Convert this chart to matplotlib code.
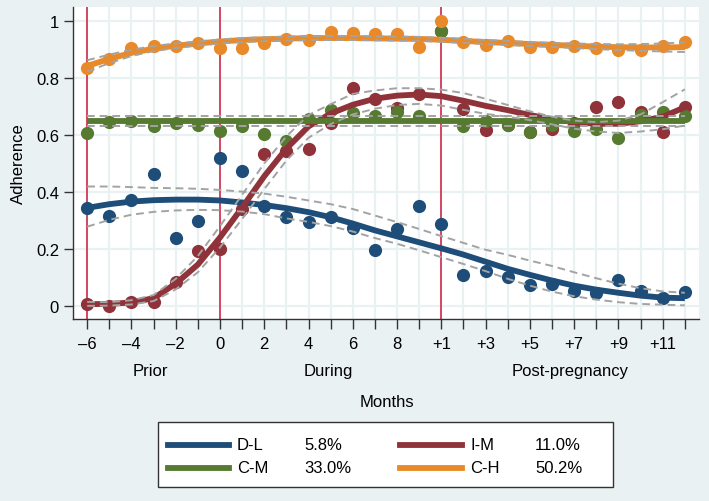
import numpy as np
import matplotlib
matplotlib.use('Agg')
import matplotlib.pyplot as plt
from matplotlib.lines import Line2D
from matplotlib.patches import Rectangle

plt.rcParams['font.family'] = ['Liberation Sans', 'DejaVu Sans']

# months: 6 prior (-6..-1), 10 during (0..9), 12 post (+1..+12)
tick_labels = ['\u20136', '', '\u20134', '', '\u20132', '', '0', '', '2', '', '4', '', '6', '', '8', '',
               '+1', '', '+3', '', '+5', '', '+7', '', '+9', '', '+11', '']
x = np.arange(-6, 22)

# observed group means
dl_obs = [0.344, 0.317, 0.373, 0.463, 0.237, 0.297, 0.518, 0.472, 0.350, 0.313, 0.296, 0.313, 0.272, 0.196,
          0.270, 0.352, 0.289, 0.109, 0.123, 0.101, 0.075, 0.077, 0.054, 0.046, 0.091, 0.054, 0.028, 0.048]
im_obs = [0.007, 0.001, 0.013, 0.013, 0.083, 0.194, 0.200, 0.340, 0.533, 0.545, 0.551, 0.642, 0.764, 0.726,
          0.696, 0.744, 0.965, 0.691, 0.619, 0.635, 0.609, 0.621, 0.642, 0.697, 0.715, 0.680, 0.612, 0.697]
cm_obs = [0.607, 0.647, 0.650, 0.633, 0.642, 0.635, 0.614, 0.630, 0.605, 0.580, 0.655, 0.688, 0.676, 0.668,
          0.680, 0.666, 0.965, 0.633, 0.650, 0.635, 0.609, 0.635, 0.615, 0.621, 0.588, 0.670, 0.680, 0.666]
ch_obs = [0.834, 0.867, 0.905, 0.913, 0.911, 0.923, 0.904, 0.906, 0.923, 0.938, 0.933, 0.961, 0.959, 0.955,
          0.955, 0.910, 1.000, 0.925, 0.917, 0.929, 0.908, 0.908, 0.913, 0.904, 0.898, 0.899, 0.913, 0.925]

# fitted trajectories + 95% CI
dl_fit = [0.344, 0.357, 0.366, 0.371, 0.373, 0.373, 0.370, 0.363, 0.354, 0.343, 0.329, 0.311, 0.289, 0.265,
          0.244, 0.223, 0.202, 0.180, 0.155, 0.130, 0.109, 0.089, 0.071, 0.057, 0.046, 0.036, 0.029, 0.027]
dl_hi = [0.419, 0.419, 0.417, 0.414, 0.413, 0.411, 0.407, 0.401, 0.394, 0.383, 0.370, 0.357, 0.340, 0.317,
         0.294, 0.270, 0.245, 0.221, 0.197, 0.179, 0.159, 0.140, 0.118, 0.097, 0.078, 0.062, 0.051, 0.046]
dl_lo = [0.278, 0.302, 0.320, 0.330, 0.335, 0.337, 0.336, 0.331, 0.322, 0.307, 0.295, 0.280, 0.261, 0.238,
         0.218, 0.195, 0.171, 0.147, 0.122, 0.095, 0.071, 0.050, 0.034, 0.022, 0.013, 0.007, 0.004, 0.002]

im_fit = [0.006, 0.007, 0.012, 0.027, 0.078, 0.145, 0.240, 0.345, 0.455, 0.552, 0.630, 0.675, 0.706, 0.727,
          0.738, 0.742, 0.736, 0.720, 0.702, 0.687, 0.670, 0.655, 0.645, 0.639, 0.639, 0.648, 0.664, 0.697]
im_hi = [0.014, 0.013, 0.020, 0.038, 0.095, 0.175, 0.280, 0.390, 0.500, 0.595, 0.670, 0.708, 0.744, 0.756,
         0.764, 0.764, 0.759, 0.747, 0.727, 0.705, 0.683, 0.664, 0.650, 0.645, 0.650, 0.672, 0.715, 0.760]
im_lo = [0.000, 0.001, 0.005, 0.017, 0.058, 0.118, 0.205, 0.305, 0.410, 0.510, 0.590, 0.638, 0.672, 0.692,
         0.705, 0.709, 0.703, 0.688, 0.674, 0.664, 0.652, 0.637, 0.622, 0.612, 0.607, 0.612, 0.620, 0.633]

cm_fit = [0.650, 0.650, 0.650, 0.650, 0.650, 0.650, 0.650, 0.650, 0.650, 0.650, 0.650, 0.650, 0.650, 0.650,
          0.650, 0.650, 0.650, 0.650, 0.650, 0.650, 0.650, 0.650, 0.650, 0.650, 0.650, 0.650, 0.650, 0.650]
cm_hw = [0.017, 0.017, 0.017, 0.017, 0.017, 0.017, 0.017, 0.017, 0.017, 0.017, 0.017, 0.017, 0.017, 0.017,
         0.017, 0.017, 0.017, 0.017, 0.017, 0.017, 0.017, 0.017, 0.017, 0.017, 0.017, 0.017, 0.017, 0.017]

ch_fit = [0.842, 0.867, 0.888, 0.903, 0.913, 0.921, 0.928, 0.933, 0.936, 0.938, 0.940, 0.940, 0.940, 0.939,
          0.938, 0.937, 0.934, 0.930, 0.926, 0.923, 0.919, 0.916, 0.913, 0.910, 0.908, 0.907, 0.907, 0.908]
ch_hw = [0.020, 0.015, 0.011, 0.009, 0.008, 0.007, 0.007, 0.007, 0.007, 0.007, 0.007, 0.007, 0.007, 0.007,
         0.007, 0.007, 0.007, 0.007, 0.007, 0.007, 0.007, 0.007, 0.008, 0.009, 0.010, 0.012, 0.014, 0.017]

groups = ['D-L', 'I-M', 'C-M', 'C-H']
shares = ['5.8%', '11.0%', '33.0%', '50.2%']
colors = ['#1d4d78', '#8f3239', '#567a2f', '#e88a2a']
period_labels = ['Prior', 'During', 'Post-pregnancy']
period_x = [-3.15, 4.9, 15.8]
breaks = [-6, 0, 10]

bg = '#eaf1f3'
W, H = 709, 502
fig = plt.figure(figsize=(7.09, 5.02), dpi=100, facecolor=bg)
ax = fig.add_axes([73/W, 1-320/H, 626/W, 312/H])
ax.set_facecolor('white')

ax.set_xlim(-6.64, 21.64)
ax.set_ylim(-0.046, 1.049)
ax.set_xticks(x)
ax.set_xticklabels(tick_labels, fontsize=12)
ax.set_yticks([0, 0.2, 0.4, 0.6, 0.8, 1.0])
ax.set_yticklabels(['0', '0.2', '0.4', '0.6', '0.8', '1'], fontsize=12)
ax.tick_params(axis='x', length=7, width=1, pad=5, color='#333333')
ax.tick_params(axis='y', length=6.5, width=1, pad=3.5, color='#333333')
ax.grid(True, color=bg, lw=1.6, zorder=0)
ax.set_axisbelow(True)
for s in ['top', 'right']:
    ax.spines[s].set_visible(False)
for s in ['left', 'bottom']:
    ax.spines[s].set_color('#333333')
    ax.spines[s].set_linewidth(1)

for b in breaks:
    ax.axvline(b, color='#cf2a48', lw=1.2, zorder=1.5)

obs = [dl_obs, im_obs, cm_obs, ch_obs]
for o, c in zip(obs, colors):
    ax.plot(x, o, 'o', color=c, ms=9.5, mew=0, zorder=2)

ci_style = dict(color='#a3a3a3', lw=1.4, dashes=(4, 2.5), zorder=4)
cm_fit_a = np.array(cm_fit)
ch_fit_a = np.array(ch_fit)
fits = [(dl_fit, dl_hi, dl_lo),
        (im_fit, im_hi, im_lo),
        (cm_fit_a, cm_fit_a + np.array(cm_hw), cm_fit_a - np.array(cm_hw)),
        (ch_fit_a, ch_fit_a + np.array(ch_hw), ch_fit_a - np.array(ch_hw))]
for (f, hi, lo), c in zip(fits, colors):
    ax.plot(x, f, color=c, lw=4.2, zorder=3, solid_capstyle='butt')
    ax.plot(x, hi, **ci_style)
    ax.plot(x, lo, **ci_style)

# period labels below tick labels
for lab, px in zip(period_labels, period_x):
    ax.annotate(lab, xy=(px, 0), xycoords=('data', 'axes fraction'), xytext=(0, -37),
                textcoords='offset points', ha='center', va='center', fontsize=12)

fig.text(387/W, 1-403/H, 'Months', ha='center', va='center', fontsize=12)
fig.text(18/W, 1-164/H, 'Adherence', ha='center', va='center', rotation=90, fontsize=12)

# legend box
fig.add_artist(Rectangle((158/W, 1-488/H), (613-158)/W, (488-423)/H, transform=fig.transFigure,
                         facecolor='white', edgecolor='#333333', lw=1))
rows = [446, 469]
cols = [(168, 229, 237, 304), (400, 462, 470, 535)]
for k, (g, sh, c) in enumerate(zip(groups, shares, colors)):
    r = rows[k // 2]
    x0, x1, xt, xp = cols[k % 2]
    fig.add_artist(Line2D([x0/W, x1/W], [1-r/H, 1-r/H], transform=fig.transFigure, color=c, lw=4.2))
    fig.text(xt/W, 1-r/H, g, ha='left', va='center', fontsize=12)
    fig.text(xp/W, 1-r/H, sh, ha='left', va='center', fontsize=12)

fig.savefig('out.png', dpi=100, facecolor=bg)
